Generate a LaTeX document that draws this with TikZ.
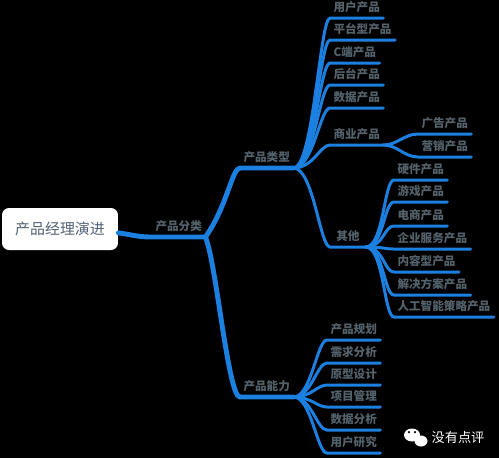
\documentclass[tikz,border=0pt]{standalone}
\usepackage{fontspec}
\setmainfont{Noto Sans CJK SC}
\definecolor{branchblue}{RGB}{28,128,224}
\definecolor{labelgray}{RGB}{84,98,108}
\definecolor{roottext}{RGB}{80,98,116}
\tikzset{
	leaf/.style={anchor=south west, inner xsep=1.8pt, inner ysep=2.8pt, text=labelgray, font=\fontsize{6.6}{7}\selectfont\bfseries},
	rootbox/.style={fill=white, rounded corners=4pt, minimum width=2.32cm, minimum height=0.84cm, text=roottext, font=\fontsize{8.5}{9}\selectfont},
	trunk/.style={draw=branchblue, line width=2.8pt, line cap=round},
	twig/.style={draw=branchblue, line width=1.7pt, line cap=round},
}

\begin{document}
\begin{tikzpicture}[x=0.02cm, y=-0.02cm]
		\fill[black] (0,0) rectangle (499,458);
		\useasboundingbox (0,0) rectangle (499,458);

		\node[rootbox] (root) at (60, 229) {产品经理演进};

		\node[leaf] (sort) at (152, 237) {产品分类};
		\node[leaf] (kind) at (240, 168) {产品类型};
		\node[leaf] (skill) at (240, 397) {产品能力};

		\draw[trunk] ([yshift=-2.2pt]root.east) .. controls +(15,2) and +(-15,0) .. (sort.south west) -- (sort.south east);
		\draw[trunk] (sort.south east) .. controls +(22,-31) and +(-8,0) .. (kind.south west) -- (kind.south east);
		\draw[trunk] (sort.south east) .. controls +(11,26) and +(-12,0) .. (skill.south west) -- (skill.south east);

		% product types
		\node[leaf] (user) at (330, 18) {用户产品};
		\node[leaf] (platform) at (330, 40) {平台型产品};
		\node[leaf] (cside) at (330, 63) {C端产品};
		\node[leaf] (back) at (330, 85) {后台产品};
		\node[leaf] (data) at (330, 108) {数据产品};
		\node[leaf] (biz) at (330, 145) {商业产品};
		\node[leaf, minimum width=0.7cm] (other) at (330, 247) {其他};

		\draw[twig] (kind.south east) .. controls +(20,0) and +(-10,0) .. (user.south west) -- (user.south east);
		\draw[twig] (kind.south east) .. controls +(20,0) and +(-10,0) .. (platform.south west) -- (platform.south east);
		\draw[twig] (kind.south east) .. controls +(20,0) and +(-10,0) .. (cside.south west) -- (cside.south east);
		\draw[twig] (kind.south east) .. controls +(20,0) and +(-10,0) .. (back.south west) -- (back.south east);
		\draw[twig] (kind.south east) .. controls +(20,0) and +(-10,0) .. (data.south west) -- (data.south east);
		\draw[twig] (kind.south east) .. controls +(20,0) and +(-10,0) .. (biz.south west) -- (biz.south east);
		\draw[twig] (kind.south east) .. controls +(20,0) and +(-10,0) .. (other.south west) -- (other.south east);

		% commercial
		\node[leaf] (ads) at (418, 134) {广告产品};
		\node[leaf] (market) at (418, 157) {营销产品};

		\draw[twig] (biz.south east) .. controls +(14,0) and +(-14,0) .. (ads.south west) -- (ads.south east);
		\draw[twig] (biz.south east) .. controls +(14,0) and +(-14,0) .. (market.south west) -- (market.south east);

		% other types
		\node[leaf] (hard) at (394, 180) {硬件产品};
		\node[leaf] (game) at (394, 202) {游戏产品};
		\node[leaf] (shop) at (394, 226) {电商产品};
		\node[leaf] (saas) at (394, 249) {企业服务产品};
		\node[leaf] (content) at (394, 272) {内容型产品};
		\node[leaf] (solve) at (394, 295) {解决方案产品};
		\node[leaf] (ai) at (394, 317) {人工智能策略产品};

		\draw[twig] (other.south east) .. controls +(18,0) and +(-10,0) .. (hard.south west) -- (hard.south east);
		\draw[twig] (other.south east) .. controls +(18,0) and +(-10,0) .. (game.south west) -- (game.south east);
		\draw[twig] (other.south east) .. controls +(18,0) and +(-10,0) .. (shop.south west) -- (shop.south east);
		\draw[twig] (other.south east) .. controls +(18,0) and +(-10,0) .. (saas.south west) -- (saas.south east);
		\draw[twig] (other.south east) .. controls +(18,0) and +(-10,0) .. (content.south west) -- (content.south east);
		\draw[twig] (other.south east) .. controls +(18,0) and +(-10,0) .. (solve.south west) -- (solve.south east);
		\draw[twig] (other.south east) .. controls +(18,0) and +(-10,0) .. (ai.south west) -- (ai.south east);

		% skills
		\node[leaf] (plan) at (327, 340) {产品规划};
		\node[leaf] (need) at (327, 363) {需求分析};
		\node[leaf] (proto) at (327, 385) {原型设计};
		\node[leaf] (proj) at (327, 407) {项目管理};
		\node[leaf] (stat) at (327, 430) {数据分析};
		\node[leaf] (study) at (327, 453) {用户研究};

		\draw[twig] (skill.south east) .. controls +(18,0) and +(-10,0) .. (plan.south west) -- (plan.south east);
		\draw[twig] (skill.south east) .. controls +(18,0) and +(-10,0) .. (need.south west) -- (need.south east);
		\draw[twig] (skill.south east) .. controls +(18,0) and +(-10,0) .. (proto.south west) -- (proto.south east);
		\draw[twig] (skill.south east) .. controls +(18,0) and +(-10,0) .. (proj.south west) -- (proj.south east);
		\draw[twig] (skill.south east) .. controls +(18,0) and +(-10,0) .. (stat.south west) -- (stat.south east);
		\draw[twig] (skill.south east) .. controls +(18,0) and +(-10,0) .. (study.south west) -- (study.south east);

		% watermark
		\fill[white] (412, 435) ellipse (0.16cm and 0.13cm);
		\fill[white] (421, 441) ellipse (0.13cm and 0.11cm);
		\fill[black] (409, 432) circle (0.025cm);
		\fill[black] (415, 432) circle (0.025cm);
		\node[text=white, font=\fontsize{7.5}{8}\selectfont] (mark) at (458, 437) {没有点评};
	\end{tikzpicture}
\end{document}
